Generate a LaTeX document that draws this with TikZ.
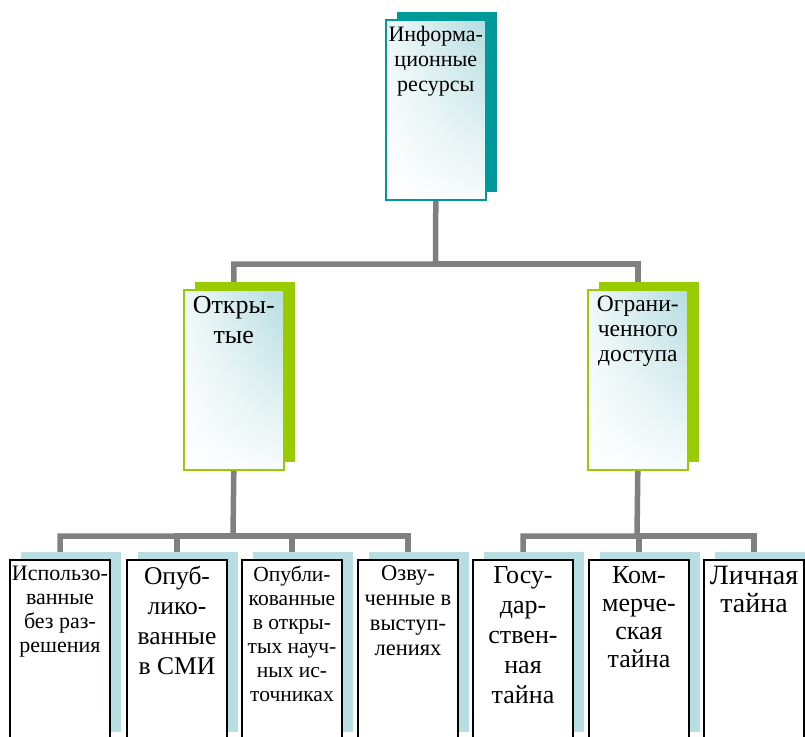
\documentclass[tikz,border=0pt]{standalone}
\usepackage{fontspec}
\setmainfont{Liberation Serif}
\usetikzlibrary{shadows,shadings,backgrounds}

\definecolor{rootshade}{HTML}{009999}
\definecolor{branchgreen}{HTML}{99CC00}
\definecolor{leafshade}{HTML}{B7DEE1}
\definecolor{cardtint}{HTML}{B4DCE0}
\definecolor{linkgray}{HTML}{808080}

\hyphenpenalty=10000
\exhyphenpenalty=10000

% text of a card, set at its top
\newcommand{\cardlines}[1]{\parbox[c][180pt][t]{100pt}{\centering\vspace*{6pt}#1}}

\tikzset{
  card/.style={anchor=north west, inner sep=0pt, line width=1.6pt, shade,
    upper right=cardtint, upper left=cardtint!20, lower left=white, lower right=cardtint!10},
  rootcard/.style={card, draw=rootshade,
    copy shadow={shadow xshift=11pt, shadow yshift=8pt, fill=rootshade, draw=none}},
  branchcard/.style={card, draw=branchgreen,
    copy shadow={shadow xshift=11pt, shadow yshift=8pt, fill=branchgreen, draw=none}},
  leafcard/.style={anchor=north west, inner sep=0pt, draw=black, line width=2pt, fill=white,
    copy shadow={shadow xshift=11pt, shadow yshift=8pt, fill=leafshade, draw=none}},
  link/.style={draw=linkgray, line width=5.5pt}
}

\begin{document}
\begin{tikzpicture}[x=1pt,y=-1pt]
    \clip (0,0) rectangle (805,736);

    % draw top card
    \node[rootcard, font=\fontsize{22}{25}\selectfont] (info) at (385,19) {\cardlines{Информа-\\ционные\\ресурсы}};

    % draw middle cards
    \node[branchcard, font=\fontsize{26}{30}\selectfont] (open) at (183,289) {\cardlines{Откры-\\тые}};
    \node[branchcard, font=\fontsize{23.5}{25}\selectfont] (limited) at (587,289) {\cardlines{Ограни-\\ченного\\доступа}};

    % draw bottom cards
    \node[leafcard, font=\fontsize{22}{24}\selectfont] (unauth) at (9,559) {\cardlines{Использо-\\ванные\\без раз-\\решения}};
    \node[leafcard, font=\fontsize{25.5}{30}\selectfont] (media) at (126,559) {\cardlines{Опуб-\\лико-\\ванные\\в СМИ}};
    \node[leafcard, font=\fontsize{21.5}{24}\selectfont] (science) at (241,559) {\cardlines{Опубли-\\кованные\\в откры-\\тых науч-\\ных ис-\\точниках}};
    \node[leafcard, font=\fontsize{22.5}{25}\selectfont] (speech) at (357,559) {\cardlines{Озву-\\ченные в\\выступ-\\лениях}};
    \node[leafcard, font=\fontsize{26}{30}\selectfont] (state) at (472,559) {\cardlines{Госу-\\дар-\\ствен-\\ная\\тайна}};
    \node[leafcard, font=\fontsize{26}{28}\selectfont] (trade) at (588,559) {\cardlines{Ком-\\мерче-\\ская\\тайна}};
    \node[leafcard, font=\fontsize{28}{28}\selectfont] (personal) at (703,559) {\cardlines{Личная\\тайна}};

    % draw connectors
    \begin{pgfonlayer}{background}
      \coordinate (rootbus) at (435.5,264);
      \coordinate (openbus) at (233,536);
      \coordinate (limitedbus) at (637,536);

      \draw[link] (info.south) -- (rootbus) -| (open.north);
      \draw[link] (rootbus) -| (limited.north);

      \draw[link] (open.south) -- (openbus) -| (unauth.north);
      \draw[link] (openbus) -| (media.north);
      \draw[link] (openbus) -| (science.north);
      \draw[link] (openbus) -| (speech.north);

      \draw[link] (limited.south) -- (limitedbus) -| (state.north);
      \draw[link] (limitedbus) -| (trade.north);
      \draw[link] (limitedbus) -| (personal.north);
    \end{pgfonlayer}
\end{tikzpicture}
\end{document}
